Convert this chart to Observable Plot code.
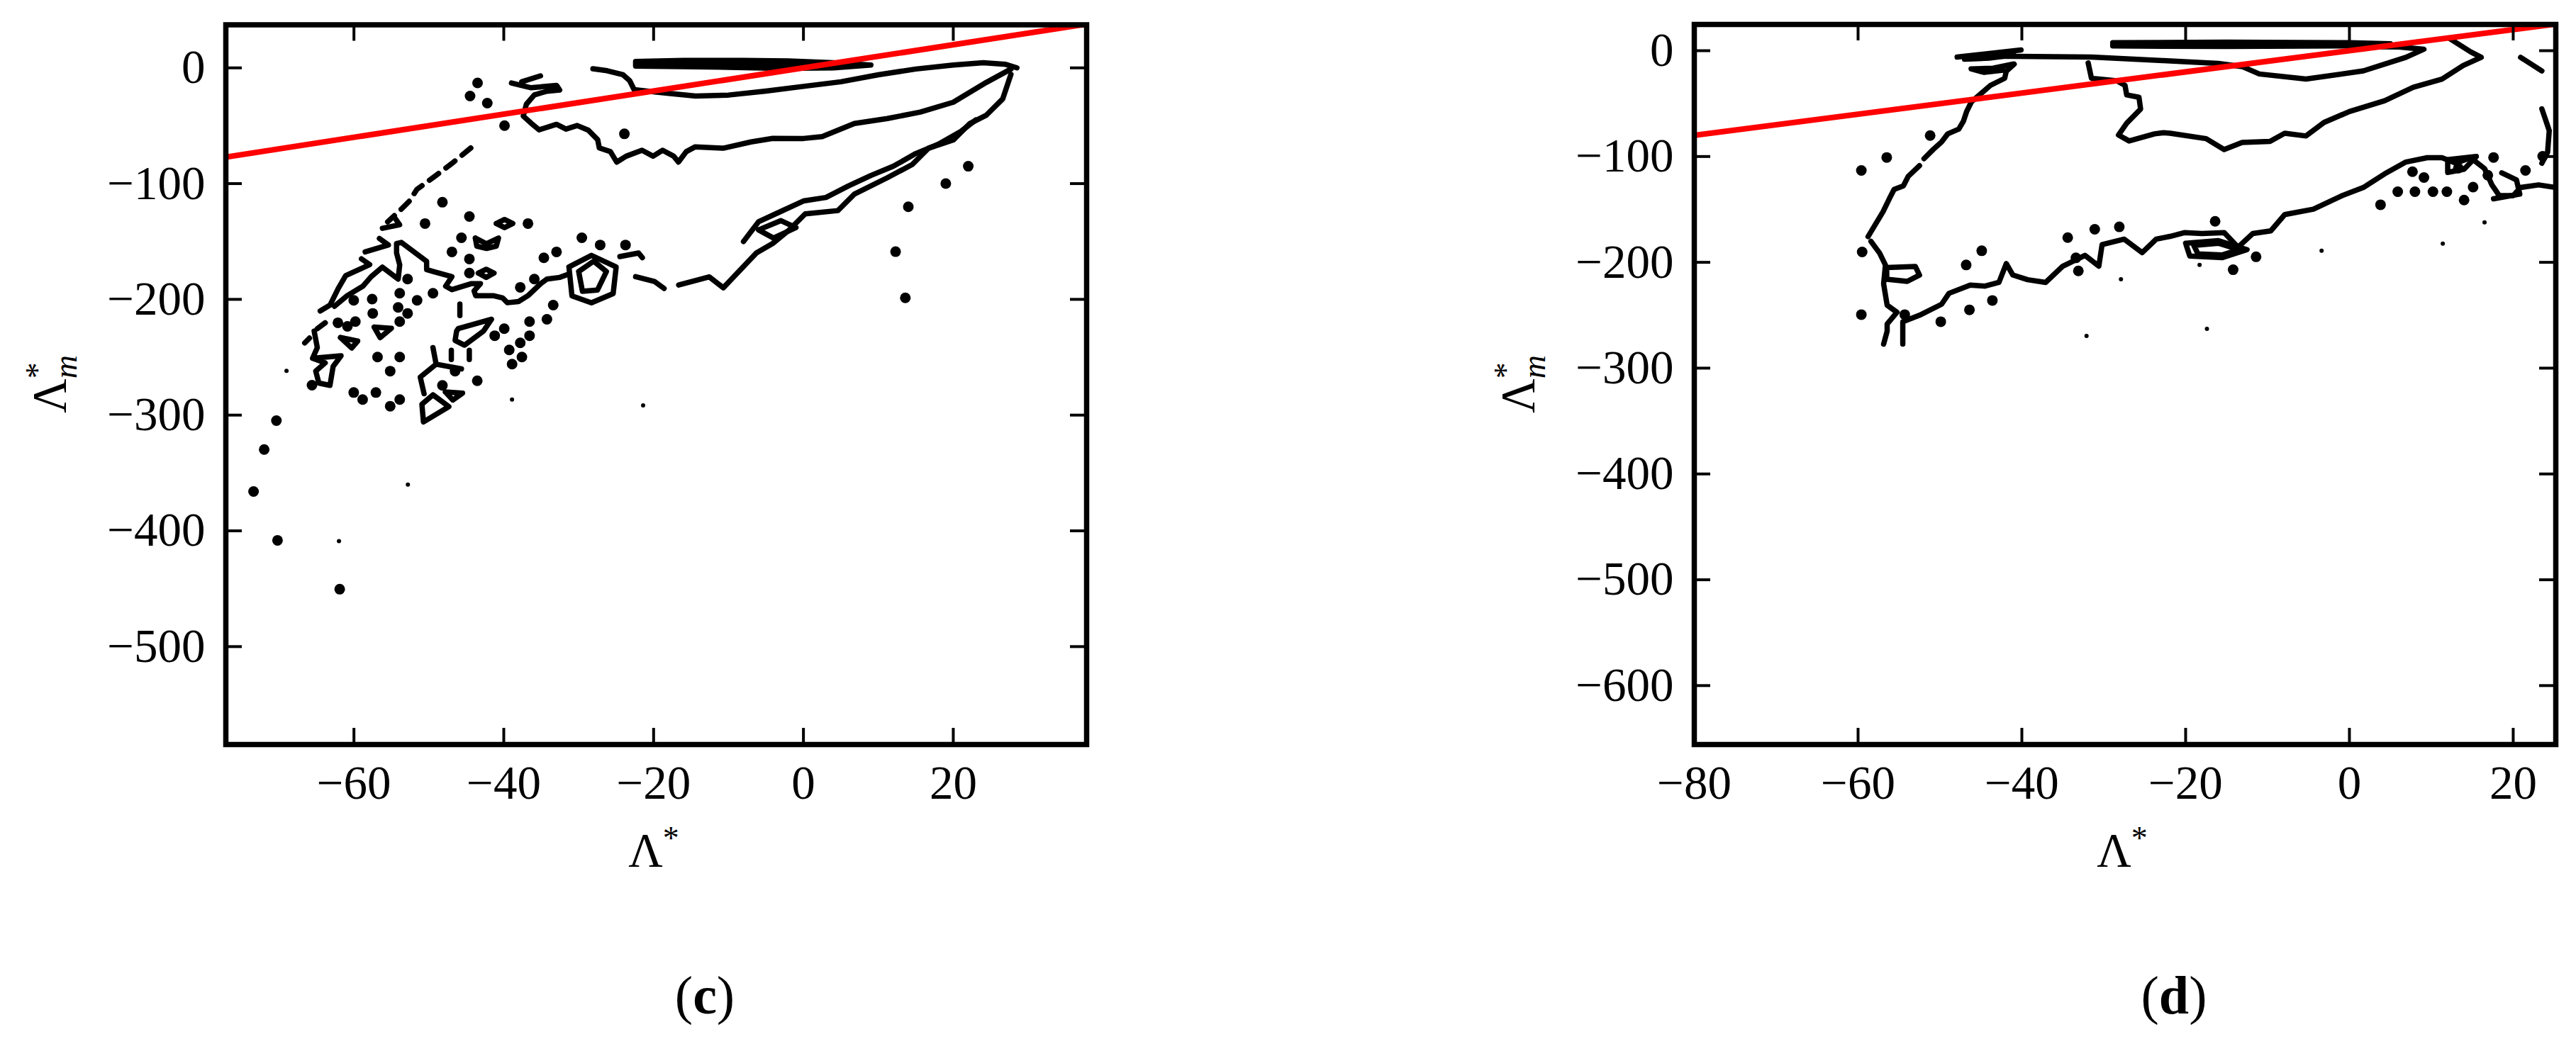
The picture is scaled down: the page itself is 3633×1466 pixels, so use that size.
<!DOCTYPE html>
<html>
<head>
<meta charset="utf-8">
<script src="https://cdn.jsdelivr.net/npm/d3@7"></script>
<script src="https://cdn.jsdelivr.net/npm/@observablehq/plot@0.6"></script>
<style>
  html, body { margin: 0; padding: 0; background: #fff; }
  body { width: 3633px; height: 1466px; position: relative; overflow: hidden; font-family: "Liberation Serif", serif; }
  .panel { position: absolute; top: 0; }
</style>
</head>
<body>
<div id="pc" class="panel" style="left:0px;width:1700px;height:1466px"></div>
<div id="pd" class="panel" style="left:2000px;width:1633px;height:1466px"></div>
<script>
// ---------------- data: panel (c) ----------------
const cXTicks = [-60, -40, -20, 0, 20];
const cYTicks = [0, -100, -200, -300, -400, -500];
const cXDomain = [-77.1, 37.8];
const cYDomain = [-584.6, 37.2];

const cBandOuter = [[-22.4,5.5],[-16,6.5],[-8,6.5],[-2,6],[4,4.5],[9,2.5],[4,0],[-3,-0.5],[-10,0.5],[-16,1],[-22.4,1.5],[-22.4,5.5]];
const cBandInner = [[-21,4.2],[-12,4.8],[-3,4],[2,2.5],[-5,2],[-13,2.5],[-21,3],[-21,4.2]];
const cBlobTop = [[-28.1,-0.8],[-26.2,-2.5],[-24.1,-5.9],[-23.2,-11],[-22.6,-18.8],[-20.7,-20.2],[-18.2,-21.9],[-14.4,-24.3],[-10,-23.5],[-5,-20],[0,-16],[5,-12],[10,-6],[15,-1],[20,2.5],[24,4.5],[27,3],[28.5,0]];
const cBlobLeft = [[-38.97,-13.1],[-36.35,-17.2],[-32.96,-15.1],[-32.54,-19.2],[-34.23,-20.2],[-35.92,-23.3],[-36.98,-31.4],[-37.4,-41.6],[-36.35,-47.8],[-35.29,-53.5],[-32.96,-48.8],[-31.7,-52.9],[-30.2,-49.8],[-28.7,-53.9],[-27.46,-62.1],[-27.25,-69.2],[-25.77,-72.3],[-24.93,-81.4],[-23.66,-76.3],[-21.55,-71.2],[-20.07,-76.3],[-18.8,-71.2],[-17.32,-76.3],[-16.69,-81.4],[-15.63,-72.3],[-14.44,-68.2],[-10.7,-69.4],[-7,-64],[-4.1,-60.9],[0,-61],[2.5,-59.4],[6.8,-48.1],[11.2,-43.8],[15.6,-38.2],[20,-29.7],[24.4,-12.6],[27.7,-1]];
const cBlobBit = [[-37.6,-12.0],[-35.1,-6.9]];
const cBandLow = [[-16.66,-187.6],[-12.56,-180.6],[-10.7,-190],[-8.5,-175],[-6.3,-160],[-4.1,-151.7],[-1.95,-140.3],[0.25,-126.1],[4.6,-123.3],[6.8,-109.1],[11.2,-94.9],[14.5,-83.6],[16.7,-69.4],[20,-62.3],[22.2,-48.1],[24.4,-41],[26.6,-26.8],[27.7,-5.5]];
const cBandLow2 = [[-8,-150],[-6,-133],[-3,-124],[0,-115],[3,-112],[6,-102],[9,-93],[12,-85],[15,-74],[18,-66],[21,-55],[23,-45]];
const cBandLoop = [[-6,-140],[-3,-132],[-1,-138],[-4,-147],[-6,-140]];
const cLL0 = [[-59.0,-165],[-57.9,-170],[-61.1,-179.5],[-62.1,-190.7],[-63.2,-205],[-64.5,-210]];
const cLL1 = [[-62.6,-206],[-60.9,-196.8],[-58.8,-188.6],[-57.7,-180.4],[-56.2,-172.2],[-54.1,-182.5],[-53.89,-170.2],[-54.31,-160],[-54.31,-151.8],[-53.68,-150.8],[-50.3,-167.2],[-50.3,-174.3],[-49.24,-176.3],[-46.92,-180.4],[-47.76,-188.6],[-46.92,-191.6],[-44.38,-186.5],[-43.11,-186.5],[-43.96,-192.7],[-43.75,-196.8],[-41.42,-196.8],[-40.15,-198.8],[-39.52,-202.9],[-38.04,-201.9],[-36.77,-196.8],[-35.08,-186.5],[-34.24,-182.5],[-32.5,-181],[-31.27,-178]];
const cNet1 = [[-31.3,-172],[-28.3,-162],[-25,-172],[-25.4,-195],[-28.3,-203],[-30.9,-197],[-31.3,-172]];
const cNet2 = [[-30,-176],[-28,-167],[-26.3,-176],[-27.5,-192],[-29.5,-193],[-30,-176]];
const cHook = [[-22.4,-180.4],[-19.9,-184.5],[-18.6,-190.6]];
const cHook2 = [[-24.5,-163],[-22,-160],[-21.5,-164]];
const cZig1 = [[-65.31,-227.4],[-64.89,-241.7],[-65.52,-250.9],[-61.72,-248.8],[-62.78,-258],[-63.2,-274.3],[-64.68,-272.3],[-65.1,-262],[-63.84,-254.9],[-65.52,-250.9]];
const cZig2 = [[-49.45,-241.7],[-49.03,-256],[-51.15,-267.2],[-50.64,-281.5]];
const cZig2b = [[-49.03,-256],[-45.65,-260.1]];
const cSausage = [[-46.07,-225.3],[-41.63,-217.2],[-42.69,-227.3],[-45.23,-239.6],[-46.5,-235.5],[-46.29,-227.3],[-46.07,-225.3]];
const cTriangle = [[-49.45,-282.5],[-47.33,-292.7],[-50.72,-305.9],[-50.93,-290.6],[-49.45,-282.5]];
const cTri2 = [[-61.8,-233],[-59.5,-236],[-60.3,-242],[-61.8,-233]];
const cTri3 = [[-57.3,-224],[-55,-225],[-56.5,-233],[-57.3,-224]];
const cTri4 = [[-47.8,-280],[-45.5,-281],[-46.8,-287],[-47.8,-280]];
const cHeart = [[-43.8,-147],[-42.3,-152],[-40.7,-147],[-41,-154],[-42.3,-156],[-43.6,-154],[-43.8,-147]];
const cDiamond1 = [[-43.4,-177.3],[-42.35,-174],[-41.3,-177.3],[-42.35,-181],[-43.4,-177.3]];
const cDiamond2 = [[-41,-134.5],[-39.9,-131],[-38.8,-134.5],[-39.9,-138],[-41,-134.5]];
const cDash1 = [[-45.86,-204],[-45.86,-214]];
const cDash2 = [[-47,-244],[-47,-252]];
const cDash3 = [[-44.6,-244],[-44.6,-252]];
const cDash4 = [[-66.57,-237.6],[-65.94,-233.5]];
const cDash5 = [[-64.89,-225.3],[-63.83,-220.2]];
const cVee1 = [[-56.2,-138.6],[-53.9,-135.5],[-54.5,-130]];
const cVee2 = [[-58.5,-159],[-55.4,-153],[-56.6,-147.4]];
const cDiag = [[-44.4,-69.2],[-46.7,-81.4],[-49.2,-93.7],[-51.6,-105],[-52.6,-115.1],[-53.7,-122.2],[-55.5,-133]];
const cBlobs = [[-48.19,-116.1],[-44.59,-128.4],[-50.51,-134.5],[-36.77,-134.5],[-45.65,-146.8],[-46.92,-159.0],[-44.59,-165.1],[-44.59,-177.3],[-29.58,-146.8],[-27.13,-153.0],[-23.75,-153.0],[-32.96,-159.0],[-34.65,-164.1],[-37.8,-189.6],[-35.92,-182.5],[-52.84,-182.5],[-49.45,-194.7],[-53.89,-194.7],[-57.57,-199.8],[-60.03,-200.8],[-51.57,-200.8],[-54.1,-207.0],[-57.49,-212.1],[-52.84,-212.1],[-53.89,-219.2],[-62.14,-220.2],[-59.81,-219.2],[-60.87,-223.3],[-39.94,-225.3],[-41.21,-231.4],[-36.56,-219.2],[-34.24,-217.2],[-36.56,-231.4],[-37.8,-237.6],[-39.27,-243.7],[-37.58,-249.8],[-38.89,-255.9],[-56.85,-249.8],[-53.89,-249.8],[-55.16,-262.0],[-46.5,-262.0],[-48.19,-274.3],[-43.54,-270.3],[-60.03,-280.5],[-57.07,-280.5],[-58.84,-286.6],[-53.89,-286.6],[-55.16,-292.3],[-65.6,-274.2],[-70.35,-304.8],[-71.98,-329.7],[-73.4,-366],[-70.2,-408.2],[-61.9,-450.4],[-43.5,-13],[-44.5,-24.3],[-42.2,-30.5],[-39.9,-49.9],[-23.9,-57],[-33.4,-205],[12.3,-158.8],[13.6,-198.7],[14,-120],[19,-100],[22,-85]];
const cTiny = [[-62.0,-408.9],[-52.8,-360.1],[-69,-261.7],[-38.9,-286.6],[-21.4,-291.6]];
const cContours = [cBandOuter,cBandInner,cBlobTop,cBlobLeft,cBlobBit,cBandLow,cBandLow2,cBandLoop,cLL0,cLL1,cNet1,cNet2,cHook,cHook2,cZig1,cZig2,cZig2b,cSausage,cTriangle,cTri2,cTri3,cTri4,cHeart,cDiamond1,cDiamond2,cDash1,cDash2,cDash3,cDash4,cDash5,cVee1,cVee2];

// ---------------- data: panel (d) ----------------
const dXTicks = [-80, -60, -40, -20, 0, 20];
const dYTicks = [0, -100, -200, -300, -400, -500, -600];
const dXDomain = [-80, 25.2];
const dYDomain = [-655.7, 24.8];

const dLeftA = [[-40.94,-12.7],[-41.9,-19.4],[-42.1,-26.1],[-43.84,-32.8],[-45,-40.6],[-46.16,-48.4],[-46.74,-57.4],[-47.12,-66.3],[-47.7,-74.1],[-49.05,-78.6],[-49.82,-86.4],[-50.79,-93.1],[-51.95,-102]];
const dLeftB = [[-52.5,-108.7],[-53.88,-118.8],[-54.46,-127.7],[-55.6,-131.1],[-56.19,-140],[-56.96,-152.3],[-58.43,-171.2],[-58.78,-175.7]];
const dLeftC = [[-58.43,-180.1],[-57.37,-191.3],[-56.66,-202.5],[-56.88,-220.4],[-56.45,-240.5],[-55.25,-247.2],[-56.45,-258.3],[-56.45,-265],[-56.88,-277.3]];
const dBand = [[-54.54,-277.3],[-54.54,-256.1],[-52.5,-250],[-49.8,-239.6],[-48.9,-229.3],[-46.3,-221.5],[-44.5,-222.5],[-42.8,-219],[-41.9,-201.2],[-41.1,-212],[-39.3,-216.4],[-37.1,-219],[-35,-203.6],[-32.3,-193.4],[-30.6,-203.6],[-30.2,-183.2],[-27.5,-178.1],[-25.3,-190.8],[-23.6,-178.1],[-21.9,-175.5],[-20.1,-171.9],[-18,-172.8],[-15.3,-171.9],[-13.6,-185.7],[-11.8,-172.8],[-9.6,-170.3],[-7.9,-154.9],[-4.4,-149.8],[-0.9,-137],[1.7,-129.3],[4.3,-116.4],[6.9,-105.2],[9.5,-101.1],[11.3,-101.1],[13,-106.3],[14.8,-101.1],[16.5,-111.4],[17.4,-126.8],[18.3,-137],[20,-137],[20.9,-129.3],[23.1,-126.8],[25.2,-129.3]];
const dRight1 = [[20.9,-6.3],[23.5,-19.1]];
const dRight2 = [[23.5,-55],[24.4,-75.5],[24.2,-96],[23.5,-106.3]];
const dTop = [[-31.9,-11.6],[-31.5,-26.1],[-28.4,-28.4],[-27.4,-32.8],[-27.2,-41.8],[-25.7,-44],[-25.5,-55.1],[-27.2,-68.5],[-28.2,-79.7],[-26.9,-85.3],[-23.8,-78.6],[-22.7,-77.5],[-21.9,-78],[-17.5,-83.1],[-15.3,-93.4],[-13.1,-86.8],[-9.7,-85.7],[-7.9,-78],[-5.3,-80.6],[-3.1,-67.8],[0,-57.5],[4.3,-47.3],[7.8,-34.5],[11.3,-26.8],[13.9,-14],[16.1,-6.3],[14.8,-1.1],[12.2,11.7]];
const dInner = [[-46.3,-5.2],[-40.8,-5.4],[-31.5,-6],[-22.7,-9.4],[-16,-12],[-13.1,-15],[-11,-22],[-5.3,-26.8],[1.7,-19.1],[6.9,-6.3],[9.1,1.4],[6,3.5],[0,4]];
const dThick = [[-28.9,7.5],[-15,8],[0,7.5],[5,6.5],[0,4.5],[-15,4],[-28.9,4.5],[-28.9,7.5]];
const dArrow = [[-47.9,-6],[-40.1,0.7]];
const dArrow2 = [[-47,-8],[-44,-7],[-41,-4]];
const dHook = [[-41.1,-12.7],[-43.5,-16.5],[-46.2,-17.2],[-44.6,-20.5],[-42.3,-18.5]];
const dLoop1 = [[-56.5,-205],[-53,-204],[-52.5,-212],[-54,-218],[-56.5,-216],[-56.5,-205]];
const dRing1 = [[-19,-184],[-16,-182],[-13.5,-188],[-15.5,-193],[-18.5,-192],[-19,-184]];
const dRing2 = [[-20,-182],[-16,-179.5],[-12.5,-188],[-15.5,-195.5],[-19.5,-194],[-20,-182]];
const dCup = [[17.6,-140],[20.8,-135.5],[20.4,-122.1],[18.6,-115.4]];
const dLoop2 = [[12,-103],[15.5,-100],[14,-112],[12,-115],[12,-103]];
const dBlobs = [[-56.5,-100.9],[-59.6,-113.2],[-59.5,-190.2],[-59.6,-249.4],[-54.3,-249.4],[-49.9,-256.1],[-46.8,-202.5],[-44.9,-189.1],[-43.6,-236],[-46.4,-244.9],[-34.4,-176.6],[-31.1,-168.8],[-28.1,-166.5],[-33.4,-195.8],[-33.1,-208.1],[-16.4,-161.2],[-14.2,-207],[-11.4,-194.8],[3.8,-145.6],[7.7,-114.3],[9.1,-119.9],[5.9,-133.3],[8,-133.3],[10.2,-133.3],[11.9,-133.3],[14,-141.1],[15.1,-128.9],[17.6,-100.9],[16.9,-117.7],[13.3,-111],[21.5,-113.2],[23.6,-99.8],[-51.2,-80.2]];
const dTiny = [[16.5,-162.3],[11.4,-182.4],[-3.4,-189.1],[-17.4,-262.8],[-32.1,-269.5],[-27.9,-216],[-18.3,-202.5]];
const dContours = [dLeftA,dLeftB,dLeftC,dBand,dRight1,dRight2,dTop,dInner,dThick,dArrow,dArrow2,dHook,dLoop1,dRing1,dRing2,dCup,dLoop2];

// red reference line  Λ*_m = Λ*
const diagonal = [-90, 50];

// ---------------- drawing ----------------
const fmt = d => (d < 0 ? "\u2212" : "") + Math.abs(d);
const rowsOf = list => list.flatMap((pts, k) => pts.map(([x, y]) => ({x, y, k})));

function panel(el, {left, width, frame, xDomain, yDomain, xTicks, yTicks, contours, dashed, blobs, tiny}) {
  const fw = frame.r - frame.l, fh = frame.b - frame.t;
  const tick = 23;
  const marks = [
    Plot.line(rowsOf(contours), {x: "x", y: "y", z: "k", stroke: "black", strokeWidth: 7.5, strokeLinejoin: "round", strokeLinecap: "round", clip: true}),
  ];
  if (dashed) marks.push(Plot.line(dashed, {x: d => d[0], y: d => d[1], stroke: "black", strokeWidth: 7.5, strokeDasharray: "16,13", clip: true}));
  marks.push(
    Plot.dot(blobs, {x: d => d[0], y: d => d[1], r: 7.5, fill: "black", clip: true}),
    Plot.dot(tiny, {x: d => d[0], y: d => d[1], r: 3, fill: "black", clip: true}),
    Plot.line(diagonal, {x: d => d, y: d => d, stroke: "#ff0000", strokeWidth: 8, clip: true}),
    Plot.ruleX(xTicks, {x: d => d, insetTop: fh - tick, stroke: "black", strokeWidth: 4}),
    Plot.ruleX(xTicks, {x: d => d, insetBottom: fh - tick, stroke: "black", strokeWidth: 4}),
    Plot.ruleY(yTicks, {y: d => d, insetRight: fw - tick, stroke: "black", strokeWidth: 4}),
    Plot.ruleY(yTicks, {y: d => d, insetLeft: fw - tick, stroke: "black", strokeWidth: 4}),
    Plot.frame({stroke: "black", strokeWidth: 7.5})
  );
  const chart = Plot.plot({
    width, height: 1466,
    marginLeft: frame.l - left,
    marginRight: left + width - frame.r,
    marginTop: frame.t,
    marginBottom: 1466 - frame.b,
    x: {domain: xDomain, ticks: xTicks, tickSize: 0, tickPadding: 29, tickFormat: fmt, label: null},
    y: {domain: yDomain, ticks: yTicks, tickSize: 0, tickPadding: 29, tickFormat: fmt, label: null},
    style: {fontFamily: "'Liberation Serif', serif", fontSize: "67px", background: "transparent", color: "black", overflow: "visible"},
    marks
  });
  document.getElementById(el).appendChild(chart);
}

panel("pc", {left: 0, width: 1700, frame: {l: 318, r: 1532, t: 34.5, b: 1050},
  xDomain: cXDomain, yDomain: cYDomain, xTicks: cXTicks, yTicks: cYTicks,
  contours: cContours, dashed: cDiag, blobs: cBlobs, tiny: cTiny});
panel("pd", {left: 2000, width: 1633, frame: {l: 2389, r: 3604, t: 34, b: 1050},
  xDomain: dXDomain, yDomain: dYDomain, xTicks: dXTicks, yTicks: dYTicks,
  contours: dContours, dashed: null, blobs: dBlobs, tiny: dTiny});

// ---------------- labels ----------------
const svg = d3.select("body").append("svg")
  .attr("width", 3633).attr("height", 1466)
  .style("position", "absolute").style("left", "0px").style("top", "0px")
  .style("font-family", "'Liberation Serif', serif");

function xLabel(cx, baseline) {
  const t = svg.append("text").attr("x", cx).attr("y", baseline).attr("text-anchor", "middle").attr("font-size", 67);
  t.append("tspan").text("Λ");
  t.append("tspan").attr("font-size", 46).attr("dy", -24).text("*");
}
function yLabel(bx, cy) {
  const g = svg.append("g").attr("transform", `translate(${bx},${cy}) rotate(-90)`);
  const t = g.append("text").attr("text-anchor", "middle").attr("font-size", 67);
  t.append("tspan").text("Λ");
  t.append("tspan").attr("font-size", 46).attr("dy", -24).text("*");
  t.append("tspan").attr("font-size", 46).attr("font-style", "italic").attr("dx", -23).attr("dy", 40).text("m");
}
function panelLabel(cx, baseline, letter) {
  const t = svg.append("text").attr("x", cx).attr("y", baseline).attr("text-anchor", "middle").attr("font-size", 76);
  t.append("tspan").text("(");
  t.append("tspan").attr("font-weight", "bold").text(letter);
  t.append("tspan").text(")");
}
xLabel(922, 1222);
xLabel(2993, 1222);
yLabel(92, 542);
yLabel(2163, 542);
panelLabel(994, 1430, "c");
panelLabel(3066, 1430, "d");
</script>
</body>
</html>
